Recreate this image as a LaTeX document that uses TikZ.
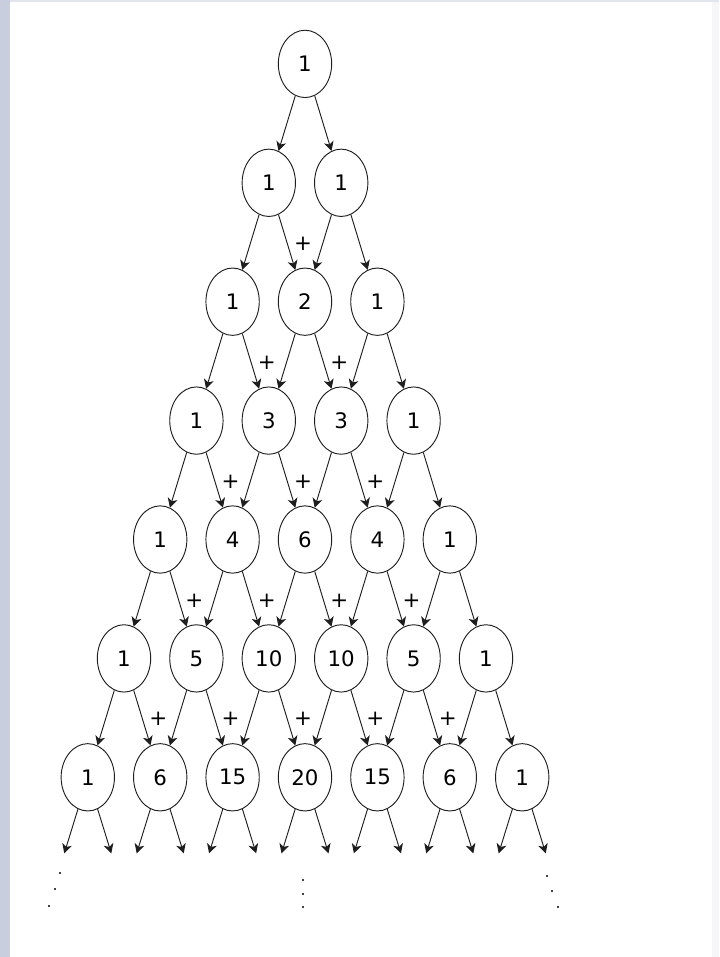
\documentclass[tikz,border=0pt]{standalone}
\usepackage{fontspec}
\setmainfont{DejaVu Sans}
\usepackage{tikz}
\usetikzlibrary{shapes.geometric,arrows.meta,calc}
\definecolor{edgegrey}{RGB}{201,206,222}
\definecolor{topgrey}{RGB}{226,229,237}
\definecolor{rightgrey}{RGB}{246,246,249}
\definecolor{inkgrey}{RGB}{30,30,30}

\begin{document}
\begin{tikzpicture}[x=0.75pt,y=-0.75pt,
          cell/.style={draw=inkgrey,ellipse,line width=0.7pt,
                       minimum width=40pt,minimum height=50.5pt,inner sep=0pt,
                       font=\fontsize{16}{19}\selectfont},
          plus/.style={inner sep=0pt,font=\fontsize{16}{19}\selectfont},
          arr/.style={draw=inkgrey,line width=0.7pt,
                      -{Stealth[length=7pt,width=7.5pt,inset=2pt]}}]
        % page margins
        \fill[edgegrey] (0,0) rectangle (719,957);
        \fill[topgrey] (10,0) rectangle (719,2);
        \fill[rightgrey] (712,2) rectangle (719,957);
        \fill[white] (10,2) rectangle (712,957);
        \useasboundingbox (0,0) rectangle (719,957);
        % rows of the triangle
        \foreach \r/\vals in {0/{1},1/{1,1},2/{1,2,1},3/{1,3,3,1},4/{1,4,6,4,1},
                              5/{1,5,10,10,5,1},6/{1,6,15,20,15,6,1}}
          \foreach \v [count=\k from 0] in \vals
            \node[cell] (n-\r-\k) at ({305+72.4*(\k-\r/2)},{63.9+118.9*\r}) {\v};
        % arrows to the next row
        \foreach \r in {0,...,5}
          \foreach \k in {0,...,\r} {
            \pgfmathtruncatemacro\nr{\r+1}
            \pgfmathtruncatemacro\nk{\k+1}
            \draw[arr] (n-\r-\k) -- (n-\nr-\k);
            \draw[arr] (n-\r-\k) -- (n-\nr-\nk);
          }
        % plus signs over the inner cells
        \foreach \r in {2,...,6} {
          \pgfmathtruncatemacro\last{\r-1}
          \foreach \k in {1,...,\last}
            \node[plus] (p-\r-\k) at ($(n-\r-\k)+(-2,-58)$) {+};
        }
        % open arrows below the last row
        \foreach \k in {0,...,6} {
          \coordinate (bl-\k) at ($(n-6-\k)+(-23.5,76)$);
          \coordinate (br-\k) at ($(n-6-\k)+(23.5,76)$);
          \draw[arr] (n-6-\k) -- (bl-\k);
          \draw[arr] (n-6-\k) -- (br-\k);
        }
        % dots
        \foreach \p in {(60,873),(55,889),(49,906),(303,880),(303,894),(303,907),
                        (547,876),(552,891),(558,907)}
          \fill \p circle (0.8pt);
      \end{tikzpicture}
\end{document}
